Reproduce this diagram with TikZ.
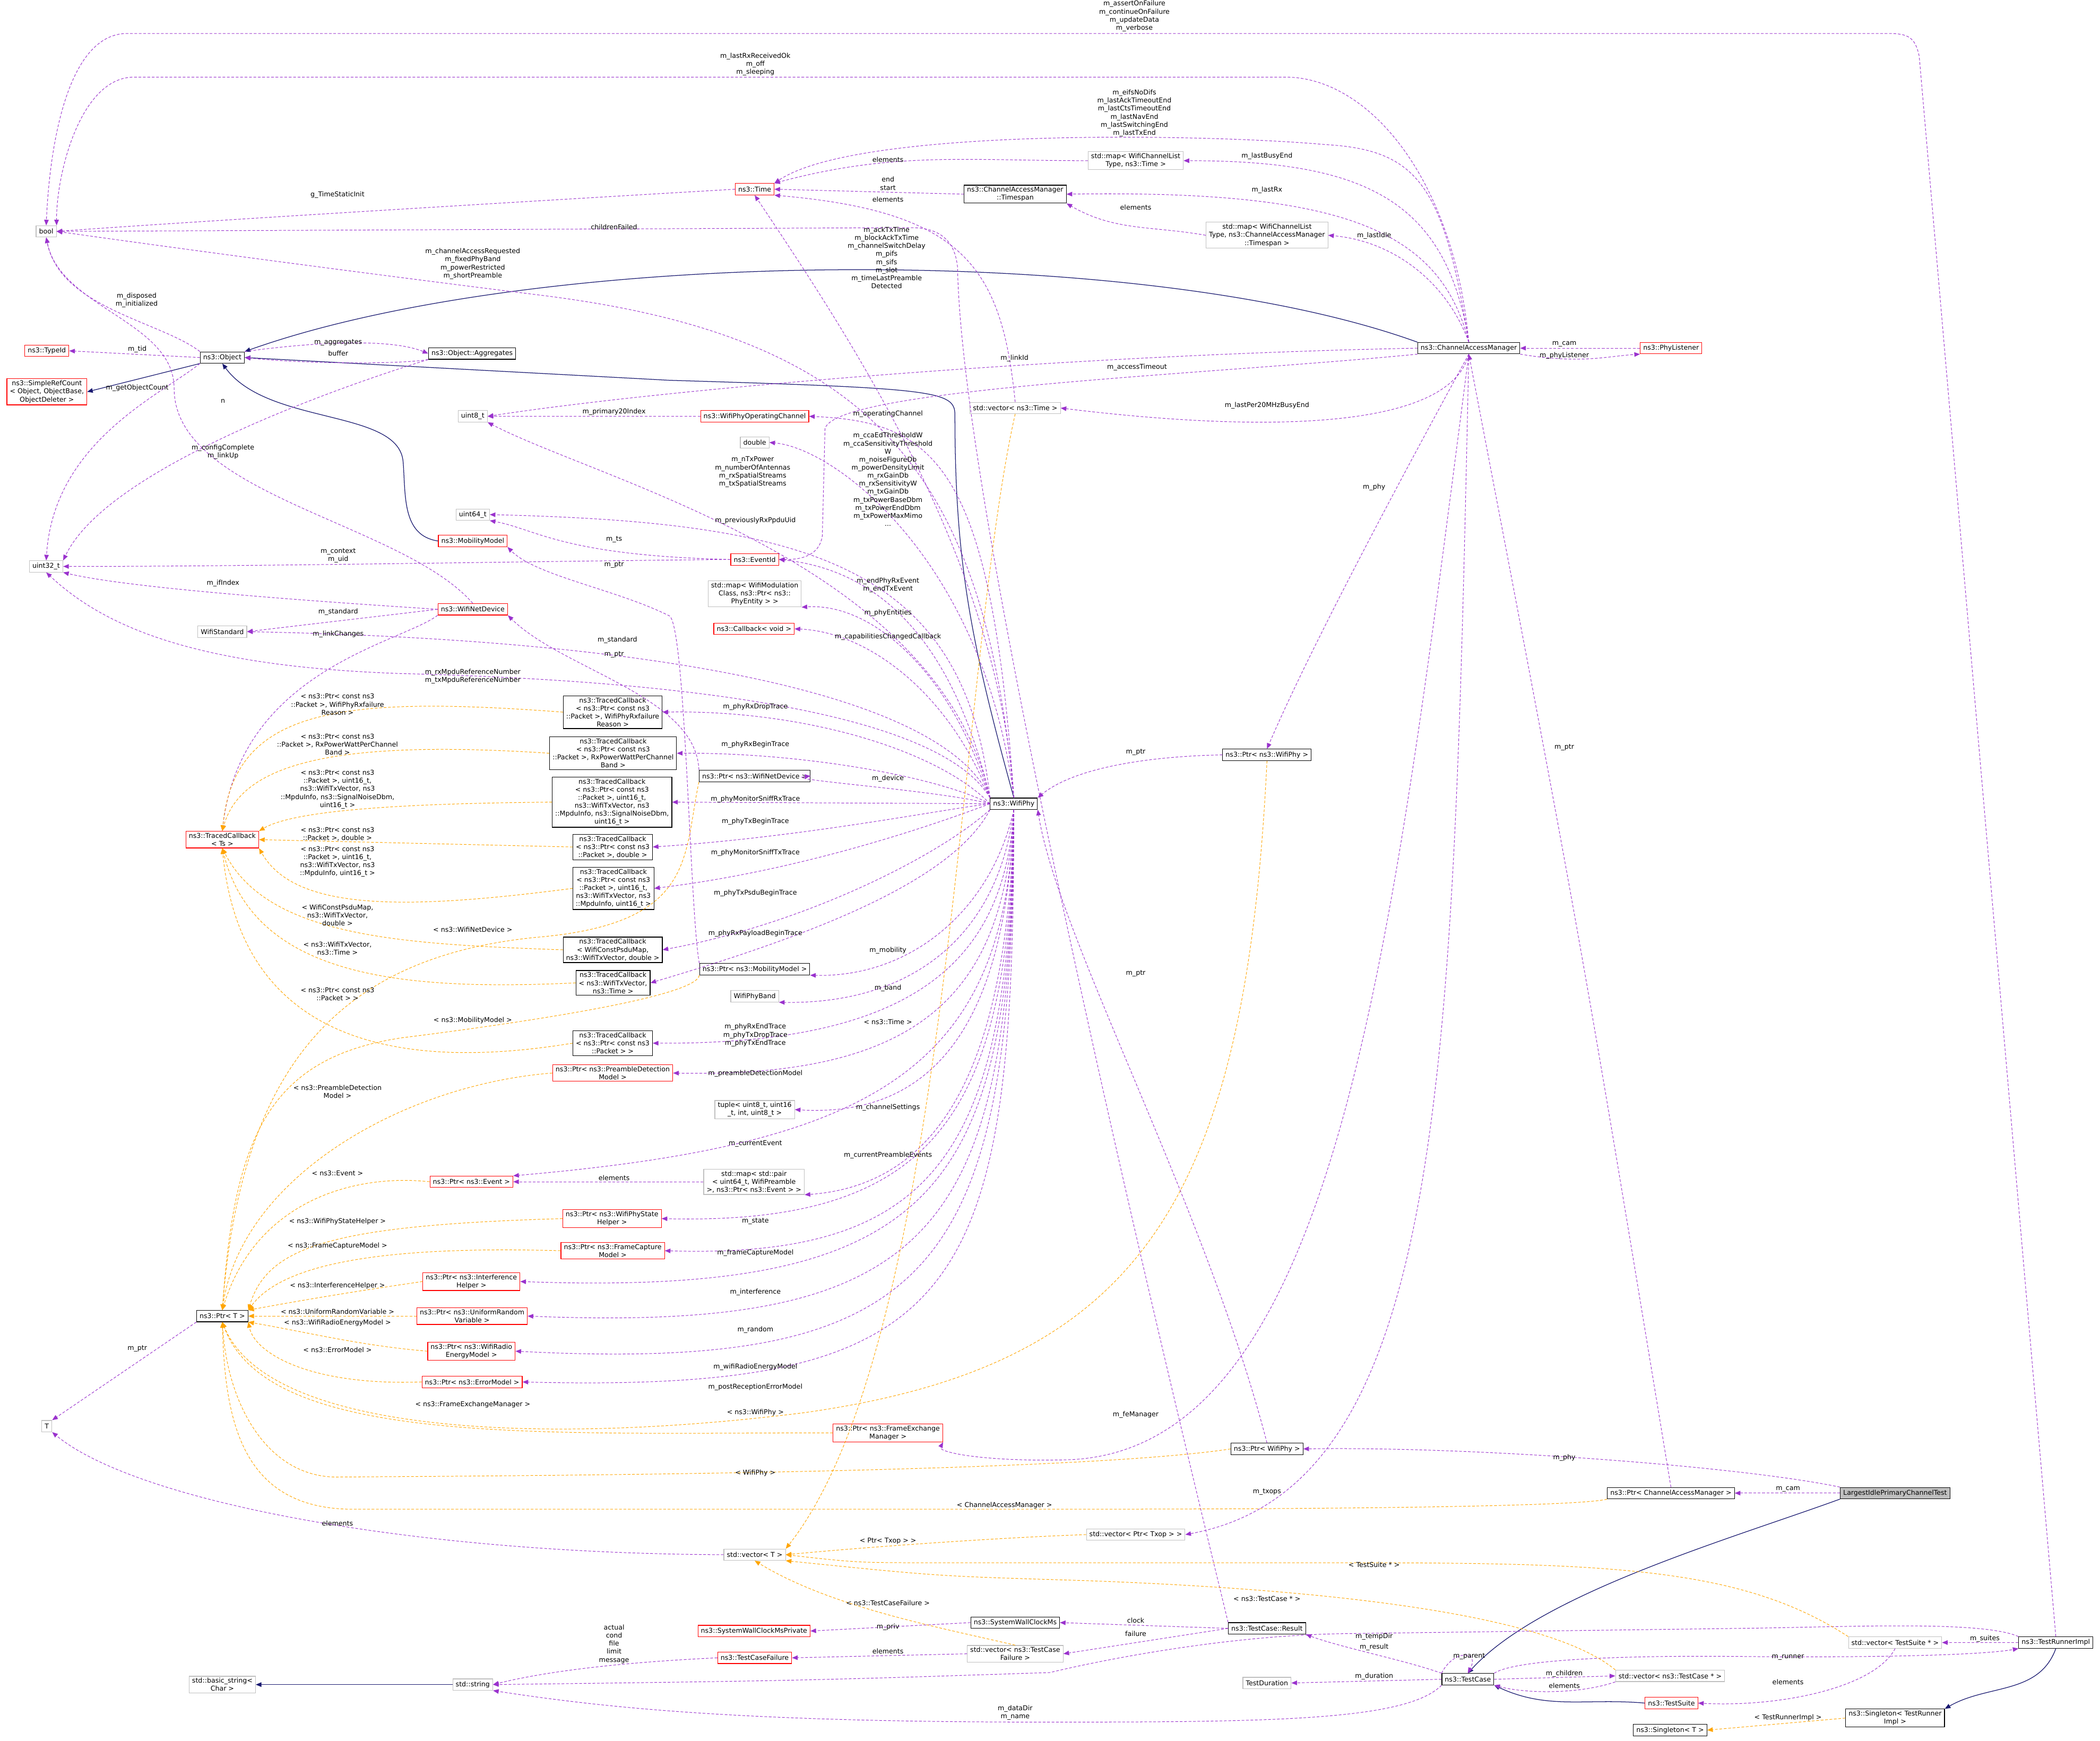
\documentclass[tikz,border=0pt]{standalone}
\usepackage{fontspec}
\setmainfont{DejaVu Sans}
\usetikzlibrary{arrows.meta}
\definecolor{purp}{HTML}{9A32CD}
\definecolor{orng}{HTML}{FFA500}
\definecolor{navy}{HTML}{191970}
\definecolor{gbord}{HTML}{BFBFBF}
\newcommand{\fs}{\fontsize{5}{6}\selectfont}
\tikzset{
 bx/.style={draw=black, line width=0.45pt, inner xsep=2.2pt, inner ysep=1.3pt, align=center, font=\fs, fill=white, minimum height=8.5pt},
 rb/.style={bx, draw=red},
 gb/.style={bx, draw=gbord},
 lab/.style={font=\fs, align=center, inner sep=0pt},
 pe/.style={draw=purp, line width=0.4pt, dash pattern=on 2pt off 1.3pt, -{Triangle[length=4.2pt,width=3.4pt]}},
 oe/.style={draw=orng, line width=0.4pt, dash pattern=on 2pt off 1.3pt, -{Triangle[length=4.2pt,width=3.4pt]}},
 ne/.style={draw=navy, line width=0.5pt, -{Triangle[length=4.2pt,width=3.4pt]}},
}
\begin{document}
\begin{tikzpicture}[x=1pt,y=1pt]
\useasboundingbox (0,0) rectangle (1568,-1300);
% ---------- nodes ----------
\node[gb] (bool) at (34.5,-172.8) {bool};
\node[rb] (time) at (563.5,-141.3) {ns3::Time};
\node[gb] (mapTime) at (848,-120) {std::map< WifiChannelList\\Type, ns3::Time >};
\node[bx] (tspan) at (758,-145) {ns3::ChannelAccessManager\\::Timespan};
\node[gb] (mapTs) at (946,-175.7) {std::map< WifiChannelList\\Type, ns3::ChannelAccessManager\\::Timespan >};
\node[bx] (cam) at (1096.7,-260) {ns3::ChannelAccessManager};
\node[rb] (phyl) at (1247.7,-260) {ns3::PhyListener};
\node[rb] (typeid) at (35,-262) {ns3::TypeId};
\node[bx] (object) at (166,-267) {ns3::Object};
\node[bx] (aggr) at (352.5,-264) {ns3::Object::Aggregates};
\node[rb] (src) at (35,-292.6) {ns3::SimpleRefCount\\< Object, ObjectBase,\\ObjectDeleter >};
\node[gb] (vtime) at (758,-304.7) {std::vector< ns3::Time >};
\node[gb] (u8) at (353,-310.9) {uint8\_t};
\node[rb] (opch) at (563.5,-310.9) {ns3::WifiPhyOperatingChannel};
\node[gb] (dbl) at (563.5,-330.4) {double};
\node[gb] (u64) at (353,-384.3) {uint64\_t};
\node[rb] (mob) at (353,-404) {ns3::MobilityModel};
\node[rb] (evid) at (563.5,-417.8) {ns3::EventId};
\node[gb] (u32) at (34.5,-423) {uint32\_t};
\node[gb] (mapmod) at (563.5,-443.5) {std::map< WifiModulation\\Class, ns3::Ptr< ns3::\\PhyEntity > >};
\node[rb] (cb) at (563,-469.6) {ns3::Callback< void >};
\node[rb] (wnd) at (353,-455) {ns3::WifiNetDevice};
\node[gb] (wstd) at (166,-471.7) {WifiStandard};
\node[bx] (tc1) at (457.5,-531.8) {ns3::TracedCallback\\< ns3::Ptr< const ns3\\::Packet >, WifiPhyRxfailure\\Reason >};
\node[bx] (tc2) at (457.8,-562.5) {ns3::TracedCallback\\< ns3::Ptr< const ns3\\::Packet >, RxPowerWattPerChannel\\Band >};
\node[bx] (tc3) at (457,-599) {ns3::TracedCallback\\< ns3::Ptr< const ns3\\::Packet >, uint16\_t,\\ns3::WifiTxVector, ns3\\::MpduInfo, ns3::SignalNoiseDbm,\\uint16\_t >};
\node[rb] (tcts) at (166,-627) {ns3::TracedCallback\\< Ts >};
\node[bx] (pwnd) at (563.5,-579.5) {ns3::Ptr< ns3::WifiNetDevice >};
\node[bx] (wp) at (757,-600.2) {ns3::WifiPhy};
\node[bx] (tc4) at (457.5,-632.5) {ns3::TracedCallback\\< ns3::Ptr< const ns3\\::Packet >, double >};
\node[bx] (tc5) at (458,-663.4) {ns3::TracedCallback\\< ns3::Ptr< const ns3\\::Packet >, uint16\_t,\\ns3::WifiTxVector, ns3\\::MpduInfo, uint16\_t >};
\node[bx] (tc6) at (457.5,-709.3) {ns3::TracedCallback\\< WifiConstPsduMap,\\ns3::WifiTxVector, double >};
\node[bx] (pmob) at (563.5,-723.8) {ns3::Ptr< ns3::MobilityModel >};
\node[bx] (tc7) at (457.7,-734) {ns3::TracedCallback\\< ns3::WifiTxVector,\\ns3::Time >};
\node[gb] (band) at (563.5,-744) {WifiPhyBand};
\node[bx] (tc8) at (457.5,-779) {ns3::TracedCallback\\< ns3::Ptr< const ns3\\::Packet > >};
\node[rb] (pre) at (457.5,-801.3) {ns3::Ptr< ns3::PreambleDetection\\Model >};
\node[gb] (tup) at (563.5,-828.6) {tuple< uint8\_t, uint16\\\_t, int, uint8\_t >};
\node[rb] (pev) at (352,-882.5) {ns3::Ptr< ns3::Event >};
\node[gb] (mappair) at (563,-882.5) {std::map< std::pair\\< uint64\_t, WifiPreamble\\>, ns3::Ptr< ns3::Event > >};
\node[rb] (psh) at (457,-910) {ns3::Ptr< ns3::WifiPhyState\\Helper >};
\node[rb] (pfc) at (457.5,-934) {ns3::Ptr< ns3::FrameCapture\\Model >};
\node[rb] (pih) at (352,-957) {ns3::Ptr< ns3::Interference\\Helper >};
\node[bx] (ptrT) at (166,-982.8) {ns3::Ptr< T >};
\node[rb] (pur) at (352.5,-982.8) {ns3::Ptr< ns3::UniformRandom\\Variable >};
\node[rb] (pwr) at (352,-1009) {ns3::Ptr< ns3::WifiRadio\\EnergyModel >};
\node[rb] (pem) at (352.5,-1032) {ns3::Ptr< ns3::ErrorModel >};
\node[gb] (T) at (35,-1065) {T};
\node[rb] (pfem) at (663,-1070) {ns3::Ptr< ns3::FrameExchange\\Manager >};
\node[bx] (pwp2) at (946,-1082) {ns3::Ptr< WifiPhy >};
\node[bx] (pwp) at (946,-563.7) {ns3::Ptr< ns3::WifiPhy >};
\node[bx] (pcam) at (1247.6,-1115) {ns3::Ptr< ChannelAccessManager >};
\node[bx, fill=gbord] (lipc) at (1415,-1115) {LargestIdlePrimaryChannelTest};
\node[gb] (vtxop) at (848,-1146) {std::vector< Ptr< Txop > >};
\node[gb] (vT) at (563.5,-1161) {std::vector< T >};
\node[bx] (swc) at (758,-1211.7) {ns3::SystemWallClockMs};
\node[rb] (swcp) at (563,-1218) {ns3::SystemWallClockMsPrivate};
\node[bx] (res) at (946,-1216) {ns3::TestCase::Result};
\node[gb] (vtcf) at (758,-1235) {std::vector< ns3::TestCase\\Failure >};
\node[rb] (tcf) at (563.5,-1238) {ns3::TestCaseFailure};
\node[gb] (vts) at (1415,-1226.6) {std::vector< TestSuite * >};
\node[bx] (tri) at (1535,-1226.6) {ns3::TestRunnerImpl};
\node[gb] (bstr) at (166,-1258) {std::basic\_string<\\Char >};
\node[gb] (str) at (353,-1258) {std::string};
\node[gb] (tdur) at (946,-1256.8) {TestDuration};
\node[bx] (tcase) at (1096,-1254) {ns3::TestCase};
\node[gb] (vtc) at (1247,-1251.5) {std::vector< ns3::TestCase * >};
\node[rb] (tsuite) at (1248,-1271.8) {ns3::TestSuite};
\node[bx] (sing) at (1415,-1283) {ns3::Singleton< TestRunner\\Impl >};
\node[bx] (singT) at (1247,-1292) {ns3::Singleton< T >};
% ---------- navy (inheritance) ----------
\draw[ne] (cam.north west) .. controls (850,-180) and (400,-185) .. (object.north east);
\draw[ne] (wp.north) .. controls (725,-480) and (713,-420) .. (713,-310) .. controls (713,-292) and (700,-290) .. (500,-284) -- (object.east);
\draw[ne] (mob.west) .. controls (300,-400) and (303,-370) .. (301,-345) .. controls (298,-305) and (200,-318) .. (object.south);
\draw[ne] (object.south west) -- (src.east);
\draw[ne] (str.west) -- (bstr.east);
\draw[ne] (lipc.south west) .. controls (1290,-1150) and (1150,-1190) .. (tcase.north);
\draw[ne] (tsuite.west) to[out=175,in=-25] (tcase.south east);
\draw[ne] (tri.south) to[out=-110,in=30] (sing.north east);
% ---------- purple ----------
\draw[pe] (tri.north) -- (1433,-42) .. controls (1430,-28) and (1425,-25) .. (1410,-25) -- (95,-25) .. controls (50,-25) and (37,-110) .. (bool.north);
\draw[pe] (cam.north) .. controls (1085,-130) and (1020,-57.6) .. (960,-57.6) -- (100,-57.6) .. controls (60,-57.6) and (42,-130) .. (bool.north east);
\draw[pe] (cam.north) .. controls (1078,-140) and (1060,-112) .. (990,-108) .. controls (900,-100) and (640,-95) .. (time.north east);
\draw[pe] (mapTime.west) to[out=180,in=15] (time.north east);
\draw[pe] (cam.north) .. controls (1080,-150) and (1020,-120) .. (mapTime.east);
\draw[pe] (tspan.west) -- (time.east);
\draw[pe] (vtime.north) .. controls (748,-200) and (720,-158) .. (time.south east);
\draw[pe] (wp.north) .. controls (745,-420) and (640,-260) .. (time.south);
\draw[pe] (cam.north) .. controls (1075,-170) and (1000,-142) .. (tspan.east);
\draw[pe] (mapTs.west) to[out=170,in=-30] (tspan.south east);
\draw[pe] (cam.north) .. controls (1080,-210) and (1040,-180) .. (mapTs.east);
\draw[pe] (object.north west) .. controls (120,-240) and (45,-230) .. (bool.south);
\draw[pe] (time.west) .. controls (400,-150) and (150,-165) .. (bool.east);
\draw[pe] (res.north west) .. controls (890,-1100) and (718,-400) .. (715,-200) .. controls (713,-178) and (700,-170) .. (680,-170) -- (bool.east);
\draw[pe] (wp.north) .. controls (735,-350) and (650,-250) .. (400,-220) .. controls (200,-195) and (80,-178) .. (bool.east);
\draw[pe] (object.west) -- (typeid.east);
\draw[pe] (object.north east) .. controls (230,-256) and (290,-252) .. (aggr.west);
\draw[pe] (aggr.south west) .. controls (300,-272) and (230,-272) .. (object.east);
\draw[pe] (object.south west) .. controls (120,-295) and (40,-330) .. (u32.north);
\draw[pe] (aggr.south west) .. controls (250,-290) and (80,-350) .. (u32.north east);
\draw[pe] (cam.west) .. controls (800,-265) and (500,-290) .. (u8.east);
\draw[pe] (cam.south west) .. controls (900,-280) and (625,-290) .. (616,-320) -- (614,-400) .. controls (612,-414) and (600,-418) .. (evid.east);
\draw[pe] (cam.south) .. controls (1080,-330) and (900,-318) .. (vtime.east);
\draw[pe] (opch.west) -- (u8.east);
\draw[pe] (wp.north) .. controls (740,-350) and (700,-315) .. (opch.east);
\draw[pe] (wp.north) .. controls (735,-420) and (625,-335) .. (dbl.east);
\draw[pe] (wp.north west) .. controls (700,-420) and (450,-360) .. (u8.south east);
\draw[pe] (wnd.north) .. controls (300,-390) and (130,-370) .. (130,-290) .. controls (130,-240) and (45,-230) .. (bool.south);
\draw[pe] (wp.north west) .. controls (720,-420) and (600,-390) .. (u64.east);
\draw[pe] (evid.west) .. controls (420,-415) and (400,-395) .. (u64.south east);
\draw[pe] (evid.west) .. controls (400,-419) and (200,-423) .. (u32.east);
\draw[pe] (pmob.north west) .. controls (515,-680) and (512,-470) .. (500,-460) .. controls (460,-440) and (400,-430) .. (mob.south east);
\draw[pe] (wp.north west) .. controls (710,-470) and (650,-425) .. (evid.east);
\draw[pe] (wnd.west) .. controls (250,-450) and (100,-440) .. (u32.south east);
\draw[pe] (wp.north west) .. controls (710,-500) and (650,-450) .. (mapmod.south east);
\draw[pe] (wnd.west) -- (wstd.east);
\draw[pe] (wnd.south west) .. controls (300,-480) and (180,-500) .. (tcts.north);
\draw[pe] (wp.north west) .. controls (705,-520) and (500,-478) .. (wstd.east);
\draw[pe] (wp.north west) .. controls (710,-520) and (650,-472) .. (cb.east);
\draw[pe] (pwnd.north west) .. controls (520,-520) and (420,-500) .. (wnd.south east);
\draw[pe] (wp.north west) .. controls (700,-530) and (500,-508) .. (300,-503) .. controls (150,-498) and (80,-470) .. (u32.south);
\draw[pe] (wp.west) .. controls (700,-560) and (600,-530) .. (tc1.east);
\draw[pe] (wp.west) .. controls (700,-580) and (600,-562) .. (tc2.east);
\draw[pe] (wp.west) .. controls (700,-590) and (580,-582) .. (pwnd.east);
\draw[pe] (wp.west) -- (tc3.east);
\draw[pe] (wp.west) .. controls (700,-605) and (600,-625) .. (tc4.east);
\draw[pe] (wp.west) .. controls (700,-615) and (600,-650) .. (tc5.east);
\draw[pe] (wp.south west) .. controls (700,-640) and (600,-690) .. (tc6.east);
\draw[pe] (wp.south west) .. controls (710,-660) and (600,-700) .. (tc7.east);
\draw[pe] (wp.south) .. controls (740,-680) and (680,-730) .. (pmob.south east);
\draw[pe] (wp.south) .. controls (745,-700) and (680,-750) .. (band.south east);
\draw[pe] (wp.south) .. controls (750,-720) and (680,-780) .. (tc8.east);
\draw[pe] (wp.south) .. controls (750,-740) and (690,-805) .. (pre.east);
\draw[pe] (wp.south) .. controls (752,-760) and (700,-835) .. (tup.east);
\draw[pe] (wp.south) .. controls (752,-800) and (650,-855) .. (pev.north east);
\draw[pe] (mappair.west) -- (pev.east);
\draw[pe] (wp.south) .. controls (753,-800) and (700,-885) .. (mappair.south east);
\draw[pe] (wp.south) .. controls (754,-830) and (700,-915) .. (psh.east);
\draw[pe] (wp.south) .. controls (754,-860) and (700,-940) .. (pfc.east);
\draw[pe] (wp.south) .. controls (755,-890) and (700,-968) .. (pih.east);
\draw[pe] (wp.south) .. controls (755,-920) and (700,-995) .. (pur.east);
\draw[pe] (wp.south) .. controls (756,-950) and (700,-1025) .. (pwr.east);
\draw[pe] (wp.south) .. controls (757,-970) and (720,-1040) .. (pem.east);
\draw[pe] (pwp.west) .. controls (850,-565) and (800,-575) .. (wp.north east);
\draw[pe] (cam.south) .. controls (1050,-350) and (980,-480) .. (pwp.north);
\draw[pe] (pwp2.north) .. controls (900,-900) and (790,-700) .. (wp.south east);
\draw[pe] (pcam.north) .. controls (1180,-700) .. (cam.south);
\draw[pe] (cam.south) .. controls (1040,-700) and (1000,-1080) .. (800,-1090) .. controls (740,-1092) and (700,-1085) .. (pfem.south east);
\draw[pe] (cam.south) .. controls (1085,-800) and (1080,-1110) .. (vtxop.east);
\draw[pe] (lipc.north west) .. controls (1300,-1095) and (1100,-1080) .. (pwp2.east);
\draw[pe] (lipc.west) -- (pcam.east);
\draw[pe] (phyl.west) -- (cam.east);
\draw[pe] (cam.south east) .. controls (1180,-272) and (1200,-266) .. (phyl.south west);
\draw[pe] (tcase.north west) .. controls (1085,-1232) and (1105,-1232) .. (tcase.north);
\draw[pe] (tcase.north west) .. controls (1050,-1240) and (1000,-1230) .. (res.south east);
\draw[pe] (tri.north west) .. controls (1480,-1210) and (1380,-1215) .. (1300,-1216) -- (1000,-1220) .. controls (900,-1222) and (800,-1245) .. (784,-1249) .. controls (600,-1255) .. (str.east);
\draw[pe] (tcase.west) -- (tdur.east);
\draw[pe] (tcase.east) -- (vtc.west);
\draw[pe] (vtc.south west) .. controls (1180,-1265) and (1140,-1265) .. (tcase.south east);
\draw[pe] (tcase.north east) .. controls (1130,-1240) and (1200,-1236) .. (1300,-1237) .. controls (1400,-1238) and (1480,-1236) .. (tri.south west);
\draw[pe] (tri.west) -- (vts.east);
\draw[pe] (vts.south) .. controls (1400,-1260) and (1330,-1275) .. (tsuite.east);
\draw[pe] (res.west) -- (swc.east);
\draw[pe] (res.west) -- (vtcf.east);
\draw[pe] (swc.west) -- (swcp.east);
\draw[pe] (vtcf.west) -- (tcf.east);
\draw[pe] (tcf.west) .. controls (450,-1242) and (400,-1250) .. (str.east);
\draw[pe] (tcase.south west) .. controls (1050,-1285) and (950,-1286) .. (780,-1286) .. controls (550,-1286) and (450,-1275) .. (str.south east);
\draw[pe] (ptrT.south west) -- (T.north east);
\draw[pe] (vT.west) .. controls (300,-1160) and (100,-1120) .. (T.south east);
% ---------- orange ----------
\draw[oe] (tc1.west) .. controls (250,-519) and (175,-530) .. (tcts.north);
\draw[oe] (tc2.west) .. controls (250,-552) and (180,-570) .. (tcts.north);
\draw[oe] (tc3.west) .. controls (300,-600) and (220,-605) .. (tcts.north east);
\draw[oe] (tc4.west) -- (tcts.east);
\draw[oe] (tc5.west) .. controls (300,-680) and (220,-680) .. (tcts.south east);
\draw[oe] (tc6.west) .. controls (300,-705) and (200,-700) .. (tcts.south);
\draw[oe] (tc7.west) .. controls (300,-740) and (190,-730) .. (tcts.south);
\draw[oe] (tc8.west) .. controls (300,-800) and (180,-780) .. (tcts.south);
\draw[oe] (pwnd.south west) .. controls (510,-640) and (520,-690) .. (400,-700) .. controls (250,-715) and (180,-800) .. (ptrT.north);
\draw[oe] (pmob.south west) .. controls (520,-745) and (380,-765) .. (300,-775) .. controls (200,-790) and (175,-850) .. (ptrT.north);
\draw[oe] (pre.west) .. controls (300,-810) and (180,-880) .. (ptrT.north);
\draw[oe] (pev.west) .. controls (260,-876) and (190,-900) .. (ptrT.north);
\draw[oe] (psh.west) .. controls (250,-915) and (200,-930) .. (ptrT.north east);
\draw[oe] (pfc.west) .. controls (280,-930) and (210,-945) .. (ptrT.north east);
\draw[oe] (pih.west) .. controls (260,-965) and (220,-972) .. (ptrT.north east);
\draw[oe] (pur.west) -- (ptrT.east);
\draw[oe] (pwr.west) .. controls (270,-1005) and (230,-995) .. (ptrT.south east);
\draw[oe] (pem.west) .. controls (230,-1035) and (190,-1010) .. (ptrT.south east);
\draw[oe] (pfem.west) .. controls (400,-1070) and (200,-1080) .. (ptrT.south);
\draw[oe] (pwp.south) .. controls (930,-900) and (850,-1020) .. (600,-1055) .. controls (400,-1080) and (200,-1070) .. (ptrT.south);
\draw[oe] (pwp2.west) .. controls (800,-1100) and (400,-1102) .. (250,-1103) .. controls (200,-1102) and (170,-1050) .. (ptrT.south);
\draw[oe] (pcam.south west) .. controls (1180,-1125) and (1000,-1127) .. (800,-1127) -- (260,-1127) .. controls (180,-1125) and (168,-1060) .. (ptrT.south);
\draw[oe] (vtime.south) .. controls (715,-500) and (710,-1000) .. (vT.north east);
\draw[oe] (vtxop.west) .. controls (750,-1148) and (650,-1155) .. (vT.east);
\draw[oe] (vts.north west) .. controls (1300,-1170) and (1200,-1167) .. (1000,-1167) -- (700,-1167) .. controls (640,-1167) .. (vT.east);
\draw[oe] (vtc.north west) .. controls (1150,-1200) and (950,-1185) .. (800,-1180) .. controls (700,-1177) .. (vT.south east);
\draw[oe] (vtcf.north) .. controls (700,-1215) and (620,-1200) .. (vT.south);
\draw[oe] (sing.west) -- (singT.east);
% ---------- labels ----------
\node[lab] (l1) at (847,-12) {m\_assertOnFailure\\m\_continueOnFailure\\m\_updateData\\m\_verbose};
\node[lab] (l2) at (564,-48) {m\_lastRxReceivedOk\\m\_off\\m\_sleeping};
\node[lab] (l3) at (847,-84.5) {m\_eifsNoDifs\\m\_lastAckTimeoutEnd\\m\_lastCtsTimeoutEnd\\m\_lastNavEnd\\m\_lastSwitchingEnd\\m\_lastTxEnd};
\node[lab] (l4) at (663,-119) {elements};
\node[lab] (l5) at (946,-116.5) {m\_lastBusyEnd};
\node[lab] (l6) at (663,-137) {end\\start};
\node[lab] (l7) at (663,-149) {elements};
\node[lab] (l8) at (946,-142) {m\_lastRx};
\node[lab] (l9) at (848,-155) {elements};
\node[lab] (l10) at (1026,-176) {m\_lastIdle};
\node[lab] (l11) at (102,-224) {m\_disposed\\m\_initialized};
\node[lab] (l12) at (662,-192.5) {m\_ackTxTime\\m\_blockAckTxTime\\m\_channelSwitchDelay\\m\_pifs\\m\_sifs\\m\_slot\\m\_timeLastPreamble\\Detected};
\node[lab] (l13) at (252,-145.5) {g\_TimeStaticInit};
\node[lab] (l14) at (458.5,-169.5) {childrenFailed};
\node[lab] (l15) at (353,-197) {m\_channelAccessRequested\\m\_fixedPhyBand\\m\_powerRestricted\\m\_shortPreamble};
\node[lab] (l16) at (102.5,-260.7) {m\_tid};
\node[lab] (l17) at (252.5,-256) {m\_aggregates};
\node[lab] (l18) at (252.5,-264) {buffer};
\node[lab] (l19) at (102.5,-289.7) {m\_getObjectCount};
\node[lab] (l20) at (166.5,-299.7) {n};
\node[lab] (l21) at (757.5,-267.4) {m\_linkId};
\node[lab] (l22) at (849,-274.4) {m\_accessTimeout};
\node[lab] (l23) at (946,-303) {m\_lastPer20MHzBusyEnd};
\node[lab] (l24) at (458.5,-307.5) {m\_primary20Index};
\node[lab] (l25) at (663,-309) {m\_operatingChannel};
\node[lab] (l26) at (663,-358) {m\_ccaEdThresholdW\\m\_ccaSensitivityThreshold\\W\\m\_noiseFigureDb\\m\_powerDensityLimit\\m\_rxGainDb\\m\_rxSensitivityW\\m\_txGainDb\\m\_txPowerBaseDbm\\m\_txPowerEndDbm\\m\_txPowerMaxMimo\\...};
\node[lab] (l27) at (562,-352.5) {m\_nTxPower\\m\_numberOfAntennas\\m\_rxSpatialStreams\\m\_txSpatialStreams};
\node[lab] (l28) at (166.5,-337.5) {m\_configComplete\\m\_linkUp};
\node[lab] (l29) at (564,-389) {m\_previouslyRxPpduUid};
\node[lab] (l30) at (458.5,-403) {m\_ts};
\node[lab] (l31) at (252.5,-415) {m\_context\\m\_uid};
\node[lab] (l32) at (458.5,-422) {m\_ptr};
\node[lab] (l33) at (663,-437) {m\_endPhyRxEvent\\m\_endTxEvent};
\node[lab] (l34) at (166.5,-435.6) {m\_ifIndex};
\node[lab] (l35) at (663,-457.6) {m\_phyEntities};
\node[lab] (l36) at (252.5,-457) {m\_standard};
\node[lab] (l37) at (252.5,-473.8) {m\_linkChanges};
\node[lab] (l38) at (461,-478) {m\_standard};
\node[lab] (l39) at (663,-475.5) {m\_capabilitiesChangedCallback};
\node[lab] (l40) at (458.5,-489) {m\_ptr};
\node[lab] (l41) at (353,-505) {m\_rxMpduReferenceNumber\\m\_txMpduReferenceNumber};
\node[lab] (l42) at (564,-528) {m\_phyRxDropTrace};
\node[lab] (l43) at (564,-556) {m\_phyRxBeginTrace};
\node[lab] (l44) at (663,-581.5) {m\_device};
\node[lab] (l45) at (564,-597) {m\_phyMonitorSniffRxTrace};
\node[lab] (l46) at (564,-613.5) {m\_phyTxBeginTrace};
\node[lab] (l47) at (564,-637) {m\_phyMonitorSniffTxTrace};
\node[lab] (l48) at (564,-667) {m\_phyTxPsduBeginTrace};
\node[lab] (l49) at (564,-697) {m\_phyRxPayloadBeginTrace};
\node[lab] (l50) at (663,-709.7) {m\_mobility};
\node[lab] (l51) at (663,-738) {m\_band};
\node[lab] (l52) at (564,-773) {m\_phyRxEndTrace\\m\_phyTxDropTrace\\m\_phyTxEndTrace};
\node[lab] (l53) at (564,-801.7) {m\_preambleDetectionModel};
\node[lab] (l54) at (663,-827) {m\_channelSettings};
\node[lab] (l55) at (564,-854) {m\_currentEvent};
\node[lab] (l56) at (458.5,-879.6) {elements};
\node[lab] (l57) at (663,-862.6) {m\_currentPreambleEvents};
\node[lab] (l58) at (564,-912) {m\_state};
\node[lab] (l59) at (564,-935.6) {m\_frameCaptureModel};
\node[lab] (l60) at (564,-965) {m\_interference};
\node[lab] (l61) at (564,-993) {m\_random};
\node[lab] (l62) at (564,-1021) {m\_wifiRadioEnergyModel};
\node[lab] (l63) at (564,-1036) {m\_postReceptionErrorModel};
\node[lab] (l64) at (848,-561.6) {m\_ptr};
\node[lab] (l65) at (1026,-364) {m\_phy};
\node[lab] (l66) at (848,-727) {m\_ptr};
\node[lab] (l67) at (1168,-558) {m\_ptr};
\node[lab] (l68) at (848,-1056.6) {m\_feManager};
\node[lab] (l69) at (946,-1114) {m\_txops};
\node[lab] (l70) at (1168,-1088.5) {m\_phy};
\node[lab] (l71) at (1335,-1112) {m\_cam};
\node[lab] (l72) at (1168,-257) {m\_cam};
\node[lab] (l73) at (1168,-265.7) {m\_phyListener};
\node[lab] (l74) at (1097,-1237) {m\_parent};
\node[lab] (l75) at (1026,-1230) {m\_result};
\node[lab] (l76) at (1026,-1222) {m\_tempDir};
\node[lab] (l77) at (1026,-1252) {m\_duration};
\node[lab] (l78) at (1168,-1250) {m\_children};
\node[lab] (l79) at (1168,-1259) {elements};
\node[lab] (l80) at (1335,-1237.7) {m\_runner};
\node[lab] (l81) at (1482,-1223.7) {m\_suites};
\node[lab] (l82) at (1335,-1256) {elements};
\node[lab] (l83) at (848,-1210) {clock};
\node[lab] (l84) at (848,-1220) {failure};
\node[lab] (l85) at (663,-1215) {m\_priv};
\node[lab] (l86) at (663,-1233) {elements};
\node[lab] (l87) at (458.5,-1227.7) {actual\\cond\\file\\limit\\message};
\node[lab] (l88) at (758,-1279) {m\_dataDir\\m\_name};
\node[lab] (l89) at (102.5,-1007) {m\_ptr};
\node[lab] (l90) at (252,-1137.5) {elements};
\node[lab] (o1) at (252,-526) {< ns3::Ptr< const ns3\\::Packet >, WifiPhyRxfailure\\Reason >};
\node[lab] (o2) at (252,-556) {< ns3::Ptr< const ns3\\::Packet >, RxPowerWattPerChannel\\Band >};
\node[lab] (o3) at (252,-589.5) {< ns3::Ptr< const ns3\\::Packet >, uint16\_t,\\ns3::WifiTxVector, ns3\\::MpduInfo, ns3::SignalNoiseDbm,\\uint16\_t >};
\node[lab] (o4) at (252,-623) {< ns3::Ptr< const ns3\\::Packet >, double >};
\node[lab] (o5) at (252,-643.5) {< ns3::Ptr< const ns3\\::Packet >, uint16\_t,\\ns3::WifiTxVector, ns3\\::MpduInfo, uint16\_t >};
\node[lab] (o6) at (252,-683.5) {< WifiConstPsduMap,\\ns3::WifiTxVector,\\double >};
\node[lab] (o7) at (252,-708.3) {< ns3::WifiTxVector,\\ns3::Time >};
\node[lab] (o8) at (252,-742.3) {< ns3::Ptr< const ns3\\::Packet > >};
\node[lab] (o9) at (353,-694) {< ns3::WifiNetDevice >};
\node[lab] (o10) at (353,-762) {< ns3::MobilityModel >};
\node[lab] (o11) at (252,-815.3) {< ns3::PreambleDetection\\Model >};
\node[lab] (o12) at (252,-876) {< ns3::Event >};
\node[lab] (o13) at (252,-912) {< ns3::WifiPhyStateHelper >};
\node[lab] (o14) at (252,-930.6) {< ns3::FrameCaptureModel >};
\node[lab] (o15) at (252,-960) {< ns3::InterferenceHelper >};
\node[lab] (o16) at (252,-979.5) {< ns3::UniformRandomVariable >};
\node[lab] (o17) at (252,-988) {< ns3::WifiRadioEnergyModel >};
\node[lab] (o18) at (252,-1008) {< ns3::ErrorModel >};
\node[lab] (o19) at (353,-1049) {< ns3::FrameExchangeManager >};
\node[lab] (o20) at (564,-1055) {< ns3::WifiPhy >};
\node[lab] (o21) at (564,-1100) {< WifiPhy >};
\node[lab] (o22) at (750,-1124) {< ChannelAccessManager >};
\node[lab] (o23) at (663,-763) {< ns3::Time >};
\node[lab] (o24) at (663,-1151) {< Ptr< Txop > >};
\node[lab] (o25) at (1026,-1168.5) {< TestSuite * >};
\node[lab] (o26) at (946,-1194) {< ns3::TestCase * >};
\node[lab] (o27) at (663,-1197) {< ns3::TestCaseFailure >};
\node[lab] (o28) at (1335,-1282.5) {< TestRunnerImpl >};
\end{tikzpicture}
\end{document}
